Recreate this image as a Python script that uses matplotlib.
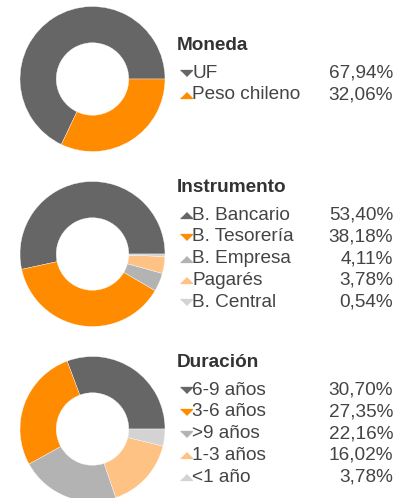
"""Donut charts: composición de cartera por moneda, instrumento y duración."""
import matplotlib
matplotlib.use("Agg")
import matplotlib.pyplot as plt

plt.rcParams["font.family"] = ["Liberation Sans", "DejaVu Sans"]

W, H = 409, 498
DPI = 100

# --- data ---
moneda_labels = ["UF", "Peso chileno"]
moneda_values = [67.94, 32.06]
moneda_trend = ["down", "up"]

instrumento_labels = ["B. Bancario", "B. Tesorería", "B. Empresa", "Pagarés", "B. Central"]
instrumento_values = [53.40, 38.18, 4.11, 3.78, 0.54]
instrumento_trend = ["up", "down", "up", "up", "down"]

duracion_labels = ["6-9 años", "3-6 años", ">9 años", "1-3 años", "<1 año"]
duracion_values = [30.70, 27.35, 22.16, 16.02, 3.78]
duracion_trend = ["down", "down", "down", "up", "up"]

palette = ["#666666", "#ff8b00", "#b3b3b3", "#ffc285", "#d3d3d3"]
text_color = "#444444"

groups = [
    ("Moneda", moneda_labels, moneda_values, moneda_trend),
    ("Instrumento", instrumento_labels, instrumento_values, instrumento_trend),
    ("Duración", duracion_labels, duracion_values, duracion_trend),
]

# layout in pixels (from top-left)
pie_cx, pie_r = 92.5, 72.5
pie_cy = [79, 254, 429]
title_y = [45, 187, 362]
row_gap = 21.7
title_x, marker_x, label_x, value_x = 177, 185.5, 192.5, 393
fs = 13.7

up_tri = [(-1, -0.5), (1, -0.5), (0, 0.5)]
down_tri = [(-1, 0.5), (1, 0.5), (0, -0.5)]


def fx(px):
    return px / W


def fy(py):
    return 1 - py / H


fig = plt.figure(figsize=(W / DPI, H / DPI), dpi=DPI)
fig.patch.set_facecolor("white")

for (title, labels, values, trend), cy, ty in zip(groups, pie_cy, title_y):
    ax = fig.add_axes([fx(pie_cx - pie_r), fy(cy + pie_r), 2 * pie_r / W, 2 * pie_r / H])
    ax.pie(
        values,
        colors=palette[: len(values)],
        startangle=0,
        counterclock=True,
        radius=1,
        wedgeprops=dict(width=0.5, edgecolor="white", linewidth=0.25),
    )
    ax.set_xlim(-1, 1)
    ax.set_ylim(-1, 1)
    ax.set_aspect("auto")
    ax.axis("off")

    fig.text(fx(title_x), fy(ty), title, fontsize=fs, fontweight="bold",
             color="#333333", ha="left", va="center")
    for i, (lab, val, tr) in enumerate(zip(labels, values, trend)):
        y = ty + row_gap * (i + 1.3)
        fig.lines.append(plt.Line2D(
            [fx(marker_x)], [fy(y)], transform=fig.transFigure,
            marker=up_tri if tr == "up" else down_tri, markersize=8.5,
            color=palette[i], linestyle="none"))
        fig.text(fx(label_x), fy(y), lab, fontsize=fs, color=text_color,
                 ha="left", va="center")
        fig.text(fx(value_x), fy(y), f"{val:.2f}%".replace(".", ","), fontsize=fs,
                 color=text_color, ha="right", va="center")

fig.savefig("out.png", dpi=DPI)
